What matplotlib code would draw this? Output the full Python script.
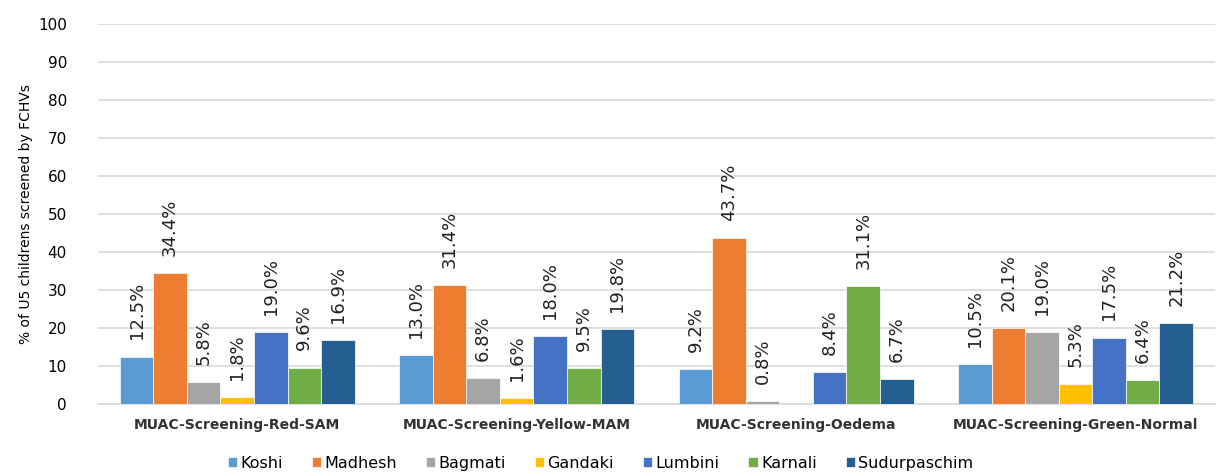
import matplotlib.pyplot as plt
import numpy as np

categories = ["MUAC-Screening-Red-SAM", "MUAC-Screening-Yellow-MAM",
              "MUAC-Screening-Oedema", "MUAC-Screening-Green-Normal"]
provinces = ["Koshi", "Madhesh", "Bagmati", "Gandaki", "Lumbini", "Karnali", "Sudurpaschim"]

koshi = [12.5, 13.0, 9.2, 10.5]
madhesh = [34.4, 31.4, 43.7, 20.1]
bagmati = [5.8, 6.8, 0.8, 19.0]
gandaki = [1.8, 1.6, 0.0, 5.3]
lumbini = [19.0, 18.0, 8.4, 17.5]
karnali = [9.6, 9.5, 31.1, 6.4]
sudurpaschim = [16.9, 19.8, 6.7, 21.2]

series = [koshi, madhesh, bagmati, gandaki, lumbini, karnali, sudurpaschim]
colors = ["#5B9BD5", "#ED7D31", "#A5A5A5", "#FFC000", "#4472C4", "#70AD47", "#255E91"]

fig = plt.figure(figsize=(12.19, 4.76), dpi=100)
ax = fig.add_axes([0.080, 0.151, 0.917, 0.799])

x = np.arange(len(categories))
w = 0.84 / len(series)

for i, (name, vals, c) in enumerate(zip(provinces, series, colors)):
    pos = x - 0.42 + w * (i + 0.5)
    ax.bar(pos, vals, width=w, color=c, label=name, edgecolor="white", linewidth=0.5, zorder=3)
    for p, v in zip(pos, vals):
        if v > 0:
            ax.text(p, v + 4.5, f"{v:.1f}%", rotation=90, ha="center", va="bottom",
                    fontsize=13, color="#222222")

ax.set_xlim(-0.5, len(categories) - 0.5)
ax.set_ylim(0, 100)
ax.set_yticks(range(0, 101, 10))
ax.yaxis.grid(True, color="#D9D9D9", linewidth=1.2, zorder=0)
ax.set_axisbelow(True)
for s in ["top", "right", "left"]:
    ax.spines[s].set_visible(False)
ax.spines["bottom"].set_color("#D9D9D9")
ax.spines["bottom"].set_linewidth(1.2)
ax.tick_params(axis="both", length=0)
ax.tick_params(axis="y", labelsize=11, pad=22)
ax.set_xticks(x)
ax.set_xticklabels(categories, fontsize=10, fontweight="bold", color="#333333")
ax.tick_params(axis="x", pad=10)
ax.set_ylabel("% of U5 childrens screened by FCHVs", fontsize=10)

ax.legend(loc="center", bbox_to_anchor=(0.45, -0.155), ncol=7, frameon=False,
          fontsize=11.5, handlelength=0.6, handleheight=0.6, handletextpad=0.2,
          columnspacing=1.8)

fig.savefig("out.png", dpi=100)
